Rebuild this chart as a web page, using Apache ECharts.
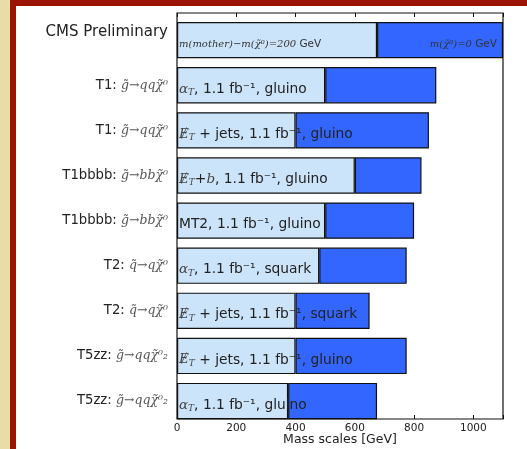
<!DOCTYPE html>
<html>
<head>
<meta charset="utf-8">
<script src="https://cdn.jsdelivr.net/npm/echarts@6/dist/echarts.min.js"></script>
<style>
html,body{margin:0;padding:0;width:527px;height:449px;overflow:hidden;background:#e8dca8;}
#frame{position:absolute;left:10px;top:0;width:517px;height:449px;box-sizing:border-box;border-left:6px solid #9a1400;border-top:6px solid #9a1400;background:#fff;}
#chart{position:absolute;left:0;top:0;width:527px;height:449px;}
</style>
</head>
<body>
<div id="frame"></div>
<div id="chart"></div>
<script>
// Rows from top to bottom
const processNames = ['CMS Preliminary', 'T1', 'T1', 'T1bbbb', 'T1bbbb', 'T2', 'T2', 'T5zz', 'T5zz'];
const processDecays = ['', 'g̃→qqχ̃⁰', 'g̃→qqχ̃⁰', 'g̃→bbχ̃⁰', 'g̃→bbχ̃⁰', 'q̃→qχ̃⁰', 'q̃→qχ̃⁰', 'g̃→qqχ̃⁰₂', 'g̃→qqχ̃⁰₂'];
// limits [GeV]: light = m(mother)-m(LSP)=200 GeV, dark = m(LSP)=0 GeV
const limitsDeltaM200 = [675, 500, 400, 600, 500, 480, 400, 400, 375];
const limitsLSP0 = [1100, 875, 850, 825, 800, 775, 650, 775, 675];
// analysis text (rich-text keys): kind, rest
const analysisKind = ['header', 'aT', 'met', 'metb', 'mt2', 'aT', 'met', 'met', 'aT'];
const analysisRest = ['', ', 1.1 fb⁻¹, gluino', ' + jets, 1.1 fb⁻¹, gluino', ', 1.1 fb⁻¹, gluino', 'MT2, 1.1 fb⁻¹, gluino', ', 1.1 fb⁻¹, squark', ' + jets, 1.1 fb⁻¹, squark', ' + jets, 1.1 fb⁻¹, gluino', ', 1.1 fb⁻¹, gluino'];
const xTicks = [0, 200, 400, 600, 800, 1000];

const LIGHT = '#cce4fa';
const DARK = '#3366ff';

function bandLabel(i) {
  const k = analysisKind[i], r = analysisRest[i];
  if (k === 'header') return '{hm|m(mother)−m(χ̃⁰)=200} {hs|GeV}';
  if (k === 'aT') return '{m|α}{sub|T}{t|' + r + '}';
  if (k === 'met') return '{m|Ɇ}{sub|T}{t|' + r + '}';
  if (k === 'metb') return '{m|Ɇ}{sub|T}{t|+}{m|b}{t|' + r + '}';
  return '{t|' + r + '}';
}

const chart = echarts.init(document.getElementById('chart'), null, {renderer: 'canvas'});
const lightData = limitsDeltaM200.map((v, i) => ({
  value: v,
  label: {formatter: bandLabel(i)}
}));
const darkData = limitsLSP0.map((v, i) => ({
  value: v - limitsDeltaM200[i],
  label: {show: i === 0, formatter: '{hm|m(χ̃⁰)=0} {hs|GeV}'}
}));

const rich = {
  t: {fontFamily: 'DejaVu Sans', fontSize: 13.8, color: '#222'},
  m: {fontFamily: 'DejaVu Serif', fontStyle: 'italic', fontSize: 13.5, color: '#444'},
  sub: {fontFamily: 'DejaVu Serif', fontStyle: 'italic', fontSize: 9, color: '#444', padding: [7, 0, 0, 0]},
  hm: {fontFamily: 'DejaVu Serif', fontStyle: 'italic', fontSize: 10, color: '#333'},
  hs: {fontFamily: 'DejaVu Sans', fontSize: 10.5, color: '#333'}
};

const option = {
  animation: false,
  backgroundColor: 'transparent',
  grid: [
    {left: 177, width: 326, top: 17.6, height: 406, show: false, containLabel: false, outerBoundsMode: 'none'},
    {left: 177, width: 326, top: 13, height: 406, show: true, borderColor: '#111', borderWidth: 1.2, backgroundColor: 'transparent', z: 5, containLabel: false, outerBoundsMode: 'none'}
  ],
  xAxis: [
    {gridIndex: 0, type: 'value', min: 0, max: 1100, show: false},
    {gridIndex: 1, type: 'value', min: 0, max: 1100, interval: 200, position: 'bottom',
     axisLine: {show: false}, splitLine: {show: false},
     axisTick: {show: true, inside: true, length: 4, lineStyle: {color: '#111'}},
     axisLabel: {fontFamily: 'DejaVu Sans', fontSize: 10.5, color: '#222', margin: 4, inside: false,
       verticalAlign: 'top',
       formatter: v => xTicks.indexOf(v) >= 0 ? String(v) : ''},
     name: 'Mass scales [GeV]', nameLocation: 'middle', nameGap: 21, nameMoveOverlap: false,
     nameTextStyle: {fontFamily: 'DejaVu Sans', fontSize: 12.5, color: '#222', verticalAlign: 'middle'}},
    {gridIndex: 1, type: 'value', min: 0, max: 1100, interval: 200, position: 'top',
     axisLine: {show: false}, splitLine: {show: false}, axisLabel: {show: false},
     axisTick: {show: true, inside: true, length: 4, lineStyle: {color: '#111'}}}
  ],
  yAxis: [
    {gridIndex: 0, type: 'category', inverse: true, data: processNames.map((n, i) => i),
     axisLine: {show: false}, axisTick: {show: false}, splitLine: {show: false},
     axisLabel: {
       margin: 9,
       formatter: (v) => {
         const i = Number(v);
         if (i === 0) return '{cms|CMS Preliminary}';
         return '{n|' + processNames[i] + ': }{d|' + processDecays[i] + '}';
       },
       rich: {
         cms: {fontFamily: 'DejaVu Sans', fontSize: 15, color: '#222', padding: [0, 0, 16, 0]},
         n: {fontFamily: 'DejaVu Sans', fontSize: 13.2, color: '#222'},
         d: {fontFamily: 'DejaVu Serif', fontStyle: 'italic', fontSize: 12.5, color: '#555'}
       }
     }},
    {gridIndex: 1, type: 'value', show: false, min: 0, max: 1}
  ],
  series: [
    {type: 'bar', xAxisIndex: 0, yAxisIndex: 0, stack: 'lim', barWidth: '80.5%', data: lightData,
     itemStyle: {color: LIGHT, borderColor: '#111', borderWidth: 1.2},
     label: {show: true, position: 'insideLeft', distance: 2, offset: [0, 4], rich: rich}, z: 2},
    {type: 'bar', xAxisIndex: 0, yAxisIndex: 0, stack: 'lim', barWidth: '80.5%', data: darkData,
     itemStyle: {color: DARK, borderColor: '#111', borderWidth: 1.2},
     label: {show: false, position: 'insideRight', distance: 6, offset: [0, 4], rich: rich}, z: 2}
  ]
};
chart.setOption(option);
</script>
</body>
</html>
